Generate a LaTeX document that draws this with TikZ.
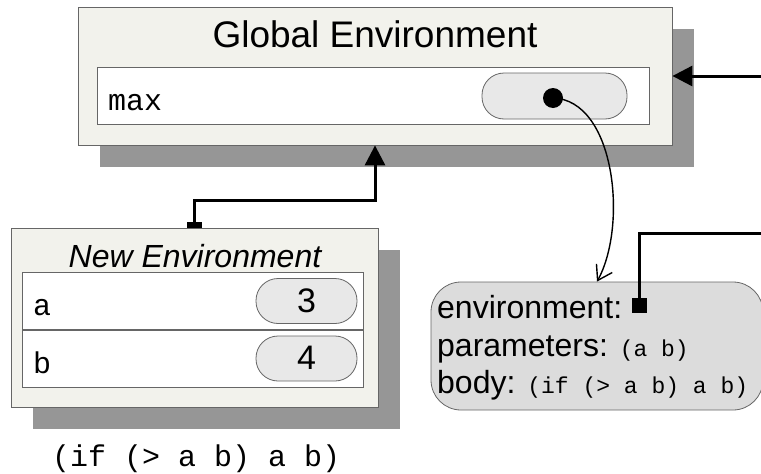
\documentclass[tikz,border=0pt]{standalone}
\usepackage{fontspec}
\setmainfont{Liberation Sans}
\setmonofont{Liberation Mono}
\usepackage{tikz}
\usepackage{xcolor}
\usetikzlibrary{arrows.meta, shadows}

\definecolor{framebg}{HTML}{F2F2EC}
\definecolor{shadowgray}{HTML}{969696}
\definecolor{pillgray}{HTML}{E8E8E8}
\definecolor{closuregray}{HTML}{DCDCDC}

\begin{document}
\begin{tikzpicture}[x=1pt, y=-1pt,
        frame/.style={draw=black!60, fill=framebg, line width=0.8pt, inner sep=0pt,
            drop shadow={shadow xshift=22pt, shadow yshift=-22pt, fill=shadowgray, opacity=1}},
        slot/.style={draw=black!60, fill=white, line width=0.8pt, inner sep=0pt},
        pill/.style={draw=black!60, fill=pillgray, line width=0.8pt, inner sep=0pt, rounded corners=22pt},
        label/.style={inner sep=0pt, anchor=base west},
        code/.style={label, font=\fontsize{30}{34}\selectfont\ttfamily},
        link/.style={line width=3pt},
        pointer/.style={line width=1.4pt}]
    \useasboundingbox (0, 0) rectangle (761, 474);

    % global frame
    \node[frame, minimum width=594pt, minimum height=138pt] (global) at (375, 76) {};
    \node[inner sep=0pt, anchor=base, font=\fontsize{37}{42}\selectfont] (globaltitle) at (375, 47) {Global Environment};
    \node[slot, minimum width=552pt, minimum height=57pt] (maxrow) at (373, 95.5) {};
    \node[code] (maxname) at (108, 110) {max};
    \node[pill, minimum width=145pt, minimum height=46pt] (maxval) at (554.5, 96) {};
    \node[circle, fill, inner sep=0pt, minimum size=20pt] (maxdot) at (553, 98) {};

    % new frame
    \node[frame, minimum width=367pt, minimum height=179pt] (newenv) at (194.5, 317.5) {};
    \node[inner sep=0pt, anchor=base, font=\fontsize{32}{36}\selectfont\itshape] (newtitle) at (195, 267) {New Environment};
    \foreach \name/\val/\y in {a/3/301, b/4/358.5} {
        \node[slot, minimum width=341pt, minimum height=57pt] (row\name) at (192.5, \y) {};
        \node[code] (name\name) at (33, \y+14.5) {\name};
        \node[pill, minimum width=101pt, minimum height=45pt] (val\name) at (306.5, \y) {};
        \node[inner sep=0pt, anchor=base, font=\fontsize{34}{38}\selectfont] at (306.5, \y+11) {\val};
    }
    \node[code] (body) at (52, 466) {(if (> a b) a b)};

    % closure
    \node[draw=black!60, fill=closuregray, line width=0.8pt, rounded corners=30pt,
        minimum width=332pt, minimum height=128pt] (closure) at (597, 346) {};
    \node[label, font=\fontsize{32}{36}\selectfont] (envline) at (437, 318) {environment:};
    \node[label, font=\fontsize{32}{36}\selectfont] (parline) at (437, 356)
        {parameters: {\fontsize{23}{26}\selectfont\ttfamily (a b)}};
    \node[label, font=\fontsize{32}{36}\selectfont] (bodyline) at (437, 393)
        {body: {\fontsize{23}{26}\selectfont\ttfamily (if (> a b) a b)}};
    \node[fill, inner sep=0pt, minimum size=15pt] (envptr) at (639.5, 305.5) {};

    % connectors
    \coordinate (globalin) at (761, 76);
    \coordinate (closin) at (761, 233);
    \draw[link, -{Triangle[length=20pt, width=20pt]}] (globalin) -- (global.east);
    \draw[link, {Rectangle[length=6pt, width=15pt]}-{Triangle[length=20pt, width=20pt]}]
        (newenv.north) |- (285, 200) -| (global.south);
    \draw[link] (envptr) |- (closin);
    \draw[pointer, -{Straight Barb[length=14pt, width=18pt]}]
        (maxdot.center) .. controls (615, 100) and (628, 225) .. (closure.north);
\end{tikzpicture}
\end{document}
